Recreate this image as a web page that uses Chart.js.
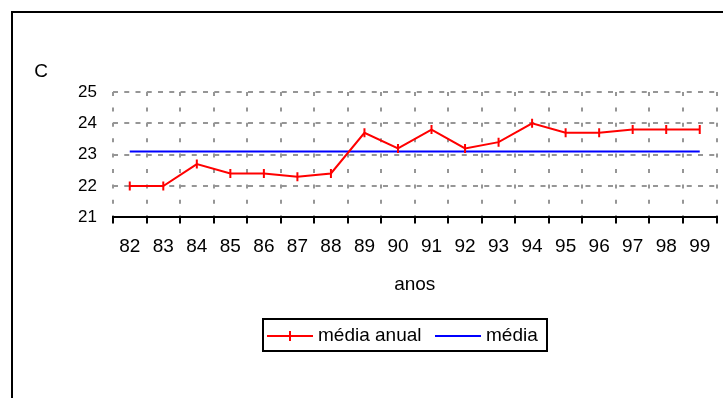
<!DOCTYPE html>
<html>
<head>
<meta charset="utf-8">
<script src="https://cdn.jsdelivr.net/npm/chart.js@4"></script>
<style>
  html, body { margin: 0; padding: 0; background: #fff; overflow: hidden; }
  #wrap { position: relative; width: 723px; height: 398px; }
  #legend {
    position: absolute; left: 262px; top: 318px; width: 282px; height: 30px;
    border: 2px solid #000; font: 19px 'Liberation Sans', Arial, sans-serif; color: #000;
  }
  #legend .sym { position: absolute; height: 2px; width: 46px; top: 15px; }
  #legend .tick { position: absolute; width: 2px; height: 10px; top: 11px; }
  #legend .txt { position: absolute; top: 4px; line-height: 22px; white-space: nowrap; }
</style>
</head>
<body>
<div id="wrap"><canvas id="chart"></canvas><div id="legend"></div></div>
<script>
const years = ["82", "83", "84", "85", "86", "87", "88", "89", "90", "91", "92", "93", "94", "95", "96", "97", "98", "99"];
const annualMean = [22.0, 22.0, 22.7, 22.4, 22.4, 22.3, 22.4, 23.7, 23.2, 23.8, 23.2, 23.4, 24.0, 23.7, 23.7, 23.8, 23.8, 23.8];
const overallMean = [23.1, 23.1, 23.1, 23.1, 23.1, 23.1, 23.1, 23.1, 23.1, 23.1, 23.1, 23.1, 23.1, 23.1, 23.1, 23.1, 23.1, 23.1];
const yTicks = [21, 22, 23, 24, 25];

const FONT = "'Liberation Sans', Arial, sans-serif";
const ctx = document.getElementById("chart").getContext("2d");

const framePlugin = {
  id: "frame",
  beforeDraw(chart) {
    const g = chart.ctx;
    g.save();
    g.fillStyle = "#000";
    g.fillRect(11, 11, 2, 400);
    g.fillRect(11, 11, 730, 2);
    g.font = "19px " + FONT;
    g.textAlign = "center";
    g.textBaseline = "middle";
    g.fillText("C", 41, 72);
    g.restore();
  }
};

const chart = new Chart(ctx, {
  type: "line",
  data: {
    labels: years,
    datasets: [
      {
        label: "média anual",
        data: annualMean,
        borderColor: "#ff0000",
        backgroundColor: "#ff0000",
        borderWidth: 2,
        tension: 0,
        pointStyle: "line",
        rotation: 90,
        pointRadius: 4.5,
        pointBorderWidth: 2,
        pointBorderColor: "#ff0000",
      },
      {
        label: "média",
        data: overallMean,
        borderColor: "#0000ff",
        backgroundColor: "#0000ff",
        borderWidth: 2,
        pointRadius: 0,
      },
    ],
  },
  options: {
    responsive: true,
    maintainAspectRatio: false,
    animation: false,
    layout: { padding: { left: 60, right: 2, top: 92, bottom: 88 } },
    plugins: {
      tooltip: { enabled: false },
      legend: { display: false },
    },
    scales: {
      x: {
        offset: true,
        grid: {
          offset: true,
          color: "#969696",
          lineWidth: 2,
          tickColor: "#000",
          tickWidth: 2,
          tickLength: 6,
          tickBorderDash: [],
        },
        border: { display: true, color: "#000", width: 2, dash: [4, 11.4] },
        ticks: { color: "#000", padding: 12, maxRotation: 0, autoSkip: false, font: { family: FONT, size: 19 } },
        title: { display: true, text: "anos", color: "#000", padding: { top: 3, bottom: 14 }, font: { family: FONT, size: 19 } },
      },
      y: {
        min: yTicks[0],
        max: yTicks[yTicks.length - 1],
        afterBuildTicks: (s) => { s.ticks = yTicks.map(v => ({ value: v })); },
        afterFit: (s) => { s.width = 53; },
        grid: { color: "#969696", lineWidth: 2, drawTicks: false },
        border: { display: false, dash: [5, 6.25] },
        ticks: { color: "#000", padding: 16, font: { family: FONT, size: 17 } },
      },
    },
  },
  plugins: [framePlugin],
});

// boxed legend below the axis title, built from the datasets
const legend = document.getElementById("legend");
const itemX = [3, 171];
chart.data.datasets.forEach((ds, i) => {
  const x = itemX[i];
  const sym = document.createElement("span");
  sym.className = "sym";
  sym.style.left = x + "px";
  sym.style.background = ds.borderColor;
  legend.appendChild(sym);
  if (ds.pointStyle === "line") {
    const t = document.createElement("span");
    t.className = "tick";
    t.style.left = (x + 22) + "px";
    t.style.background = ds.borderColor;
    legend.appendChild(t);
  }
  const txt = document.createElement("span");
  txt.className = "txt";
  txt.style.left = (x + 51) + "px";
  txt.textContent = ds.label;
  legend.appendChild(txt);
});
</script>
</body>
</html>
